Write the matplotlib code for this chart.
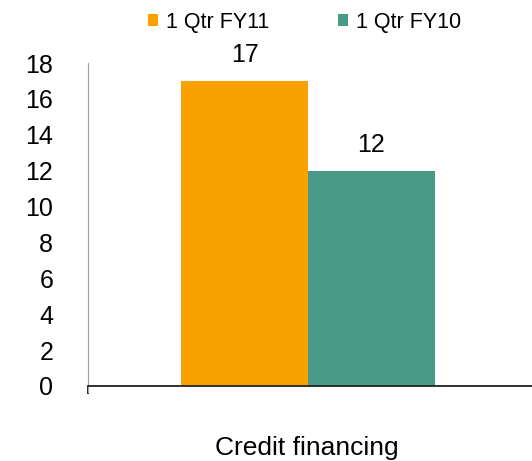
import matplotlib.pyplot as plt
import numpy as np

plt.rcParams['font.family'] = ['Liberation Sans', 'DejaVu Sans']

categories = ['Credit financing']
series_names = ['1 Qtr FY11', '1 Qtr FY10']
fy11 = [17]
fy10 = [12]
colors = ['#F9A100', '#4A9A88']

fig = plt.figure(figsize=(5.32, 4.61), dpi=100)
ax = fig.add_axes([0.1654, 0.1627, 0.8346, 0.7006])

x = np.arange(len(categories))
w = 0.285
b1 = ax.bar(x - w / 2, fy11, w, color=colors[0], label=series_names[0])
b2 = ax.bar(x + w / 2, fy10, w, color=colors[1], label=series_names[1])

# value labels above the bars
for bars in (b1, b2):
    for r in bars:
        ax.annotate('{:d}'.format(int(r.get_height())),
                    (r.get_x() + r.get_width() / 2, r.get_height()),
                    xytext=(0, 10), textcoords='offset points',
                    ha='center', va='bottom', fontsize=18)

ax.set_ylim(0, 18)
ax.set_yticks(np.arange(0, 19, 2))
ax.set_xlim(-0.4955, 0.5045)
ax.set_xticks([-0.4955])
ax.set_xticklabels([''])
ax.tick_params(axis='x', length=6, width=1.2, color='black')
ax.tick_params(axis='y', length=0, pad=25, labelsize=18)

ax.spines['top'].set_visible(False)
ax.spines['right'].set_visible(False)
ax.spines['left'].set_color('#A0A0A0')
ax.spines['left'].set_bounds(-0.35, 18)
ax.spines['bottom'].set_color('#222222')
ax.spines['bottom'].set_linewidth(1.3)

fig.text(0.576, 0.013, categories[0], ha='center', va='baseline', fontsize=19)

fig.legend(loc='center', bbox_to_anchor=(0.573, 0.952), ncol=2, frameon=False,
           fontsize=15.5, handlelength=0.47, handleheight=0.47, handletextpad=0.37,
           columnspacing=3.2)

fig.savefig('out.png', dpi=100)
